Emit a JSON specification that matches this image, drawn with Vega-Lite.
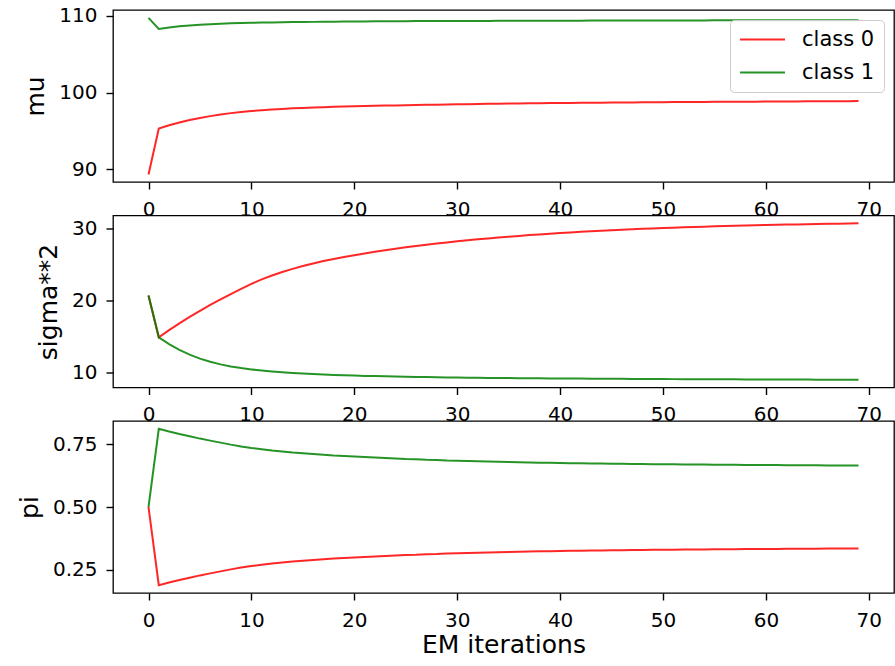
{
"$schema": "https://vega.github.io/schema/vega-lite/v6.json",
"autosize": {"type": "none"},
"padding": {"left": 113, "top": 10, "right": 782, "bottom": 656},
"background": "white",
"datasets": {"d": [
{"i":0,"c":"class 0","mu":89.3,"s":20.7,"p":0.5},{"i":0,"c":"class 1","mu":109.75,"s":20.7,"p":0.5},
{"i":1,"c":"class 0","mu":95.3,"s":14.85,"p":0.189},{"i":1,"c":"class 1","mu":108.3,"s":14.85,"p":0.811},
{"i":2,"c":"class 0","mu":95.72,"s":15.85,"p":0.2},{"i":2,"c":"class 1","mu":108.5,"s":13.9,"p":0.8},
{"i":3,"c":"class 0","mu":96.08,"s":16.8,"p":0.21},{"i":3,"c":"class 1","mu":108.65,"s":13.1,"p":0.79},
{"i":4,"c":"class 0","mu":96.4,"s":17.7,"p":0.219},{"i":4,"c":"class 1","mu":108.75,"s":12.43,"p":0.781},
{"i":5,"c":"class 0","mu":96.68,"s":18.55,"p":0.228},{"i":5,"c":"class 1","mu":108.85,"s":11.88,"p":0.772},
{"i":6,"c":"class 0","mu":96.92,"s":19.37,"p":0.236},{"i":6,"c":"class 1","mu":108.92,"s":11.43,"p":0.764},
{"i":7,"c":"class 0","mu":97.13,"s":20.15,"p":0.244},{"i":7,"c":"class 1","mu":108.98,"s":11.07,"p":0.756},
{"i":8,"c":"class 0","mu":97.31,"s":20.9,"p":0.252},{"i":8,"c":"class 1","mu":109.03,"s":10.78,"p":0.748},
{"i":9,"c":"class 0","mu":97.46,"s":21.62,"p":0.259},{"i":9,"c":"class 1","mu":109.07,"s":10.55,"p":0.741},
{"i":10,"c":"class 0","mu":97.59,"s":22.32,"p":0.265},{"i":10,"c":"class 1","mu":109.1,"s":10.37,"p":0.735},
{"i":11,"c":"class 0","mu":97.69,"s":22.94,"p":0.27},{"i":11,"c":"class 1","mu":109.13,"s":10.22,"p":0.73},
{"i":12,"c":"class 0","mu":97.78,"s":23.49,"p":0.275},{"i":12,"c":"class 1","mu":109.15,"s":10.09,"p":0.725},
{"i":13,"c":"class 0","mu":97.86,"s":23.97,"p":0.279},{"i":13,"c":"class 1","mu":109.17,"s":9.98,"p":0.721},
{"i":14,"c":"class 0","mu":97.93,"s":24.41,"p":0.283},{"i":14,"c":"class 1","mu":109.19,"s":9.88,"p":0.717},
{"i":15,"c":"class 0","mu":97.99,"s":24.81,"p":0.286},{"i":15,"c":"class 1","mu":109.21,"s":9.79,"p":0.714},
{"i":16,"c":"class 0","mu":98.04,"s":25.17,"p":0.289},{"i":16,"c":"class 1","mu":109.22,"s":9.72,"p":0.711},
{"i":17,"c":"class 0","mu":98.09,"s":25.5,"p":0.292},{"i":17,"c":"class 1","mu":109.24,"s":9.65,"p":0.708},
{"i":18,"c":"class 0","mu":98.13,"s":25.8,"p":0.295},{"i":18,"c":"class 1","mu":109.25,"s":9.6,"p":0.705},
{"i":19,"c":"class 0","mu":98.17,"s":26.08,"p":0.297},{"i":19,"c":"class 1","mu":109.26,"s":9.55,"p":0.703},
{"i":20,"c":"class 0","mu":98.2,"s":26.33,"p":0.299},{"i":20,"c":"class 1","mu":109.27,"s":9.5,"p":0.701},
{"i":21,"c":"class 0","mu":98.23,"s":26.57,"p":0.301},{"i":21,"c":"class 1","mu":109.28,"s":9.46,"p":0.699},
{"i":22,"c":"class 0","mu":98.26,"s":26.8,"p":0.303},{"i":22,"c":"class 1","mu":109.29,"s":9.43,"p":0.697},
{"i":23,"c":"class 0","mu":98.29,"s":27.02,"p":0.305},{"i":23,"c":"class 1","mu":109.3,"s":9.4,"p":0.695},
{"i":24,"c":"class 0","mu":98.32,"s":27.23,"p":0.307},{"i":24,"c":"class 1","mu":109.3,"s":9.37,"p":0.693},
{"i":25,"c":"class 0","mu":98.34,"s":27.43,"p":0.309},{"i":25,"c":"class 1","mu":109.31,"s":9.34,"p":0.691},
{"i":26,"c":"class 0","mu":98.37,"s":27.61,"p":0.31},{"i":26,"c":"class 1","mu":109.32,"s":9.32,"p":0.69},
{"i":27,"c":"class 0","mu":98.39,"s":27.78,"p":0.312},{"i":27,"c":"class 1","mu":109.32,"s":9.3,"p":0.688},
{"i":28,"c":"class 0","mu":98.41,"s":27.95,"p":0.313},{"i":28,"c":"class 1","mu":109.33,"s":9.27,"p":0.687},
{"i":29,"c":"class 0","mu":98.44,"s":28.11,"p":0.315},{"i":29,"c":"class 1","mu":109.33,"s":9.25,"p":0.685},
{"i":30,"c":"class 0","mu":98.46,"s":28.26,"p":0.316},{"i":30,"c":"class 1","mu":109.34,"s":9.23,"p":0.684},
{"i":31,"c":"class 0","mu":98.48,"s":28.4,"p":0.317},{"i":31,"c":"class 1","mu":109.34,"s":9.21,"p":0.683},
{"i":32,"c":"class 0","mu":98.5,"s":28.54,"p":0.318},{"i":32,"c":"class 1","mu":109.35,"s":9.2,"p":0.682},
{"i":33,"c":"class 0","mu":98.52,"s":28.67,"p":0.319},{"i":33,"c":"class 1","mu":109.35,"s":9.18,"p":0.681},
{"i":34,"c":"class 0","mu":98.54,"s":28.79,"p":0.32},{"i":34,"c":"class 1","mu":109.36,"s":9.17,"p":0.68},
{"i":35,"c":"class 0","mu":98.56,"s":28.91,"p":0.321},{"i":35,"c":"class 1","mu":109.36,"s":9.16,"p":0.679},
{"i":36,"c":"class 0","mu":98.57,"s":29.02,"p":0.322},{"i":36,"c":"class 1","mu":109.36,"s":9.14,"p":0.678},
{"i":37,"c":"class 0","mu":98.59,"s":29.13,"p":0.323},{"i":37,"c":"class 1","mu":109.37,"s":9.13,"p":0.677},
{"i":38,"c":"class 0","mu":98.6,"s":29.23,"p":0.324},{"i":38,"c":"class 1","mu":109.37,"s":9.12,"p":0.676},
{"i":39,"c":"class 0","mu":98.62,"s":29.33,"p":0.324},{"i":39,"c":"class 1","mu":109.37,"s":9.11,"p":0.676},
{"i":40,"c":"class 0","mu":98.63,"s":29.42,"p":0.325},{"i":40,"c":"class 1","mu":109.38,"s":9.1,"p":0.675},
{"i":41,"c":"class 0","mu":98.64,"s":29.51,"p":0.326},{"i":41,"c":"class 1","mu":109.38,"s":9.09,"p":0.674},
{"i":42,"c":"class 0","mu":98.65,"s":29.6,"p":0.326},{"i":42,"c":"class 1","mu":109.38,"s":9.08,"p":0.674},
{"i":43,"c":"class 0","mu":98.67,"s":29.68,"p":0.327},{"i":43,"c":"class 1","mu":109.39,"s":9.07,"p":0.673},
{"i":44,"c":"class 0","mu":98.68,"s":29.75,"p":0.327},{"i":44,"c":"class 1","mu":109.39,"s":9.06,"p":0.673},
{"i":45,"c":"class 0","mu":98.69,"s":29.82,"p":0.328},{"i":45,"c":"class 1","mu":109.39,"s":9.06,"p":0.672},
{"i":46,"c":"class 0","mu":98.7,"s":29.89,"p":0.328},{"i":46,"c":"class 1","mu":109.39,"s":9.05,"p":0.672},
{"i":47,"c":"class 0","mu":98.71,"s":29.95,"p":0.329},{"i":47,"c":"class 1","mu":109.4,"s":9.04,"p":0.671},
{"i":48,"c":"class 0","mu":98.72,"s":30.01,"p":0.329},{"i":48,"c":"class 1","mu":109.4,"s":9.03,"p":0.671},
{"i":49,"c":"class 0","mu":98.73,"s":30.07,"p":0.33},{"i":49,"c":"class 1","mu":109.4,"s":9.03,"p":0.67},
{"i":50,"c":"class 0","mu":98.74,"s":30.12,"p":0.33},{"i":50,"c":"class 1","mu":109.4,"s":9.02,"p":0.67},
{"i":51,"c":"class 0","mu":98.75,"s":30.17,"p":0.33},{"i":51,"c":"class 1","mu":109.41,"s":9.01,"p":0.67},
{"i":52,"c":"class 0","mu":98.76,"s":30.22,"p":0.331},{"i":52,"c":"class 1","mu":109.41,"s":9.01,"p":0.669},
{"i":53,"c":"class 0","mu":98.77,"s":30.27,"p":0.331},{"i":53,"c":"class 1","mu":109.41,"s":9.0,"p":0.669},
{"i":54,"c":"class 0","mu":98.77,"s":30.31,"p":0.331},{"i":54,"c":"class 1","mu":109.41,"s":9.0,"p":0.669},
{"i":55,"c":"class 0","mu":98.78,"s":30.36,"p":0.332},{"i":55,"c":"class 1","mu":109.42,"s":8.99,"p":0.668},
{"i":56,"c":"class 0","mu":98.79,"s":30.4,"p":0.332},{"i":56,"c":"class 1","mu":109.42,"s":8.98,"p":0.668},
{"i":57,"c":"class 0","mu":98.8,"s":30.44,"p":0.332},{"i":57,"c":"class 1","mu":109.42,"s":8.98,"p":0.668},
{"i":58,"c":"class 0","mu":98.8,"s":30.47,"p":0.333},{"i":58,"c":"class 1","mu":109.42,"s":8.97,"p":0.667},
{"i":59,"c":"class 0","mu":98.81,"s":30.51,"p":0.333},{"i":59,"c":"class 1","mu":109.42,"s":8.97,"p":0.667},
{"i":60,"c":"class 0","mu":98.82,"s":30.54,"p":0.333},{"i":60,"c":"class 1","mu":109.43,"s":8.96,"p":0.667},
{"i":61,"c":"class 0","mu":98.83,"s":30.57,"p":0.333},{"i":61,"c":"class 1","mu":109.43,"s":8.96,"p":0.667},
{"i":62,"c":"class 0","mu":98.83,"s":30.6,"p":0.334},{"i":62,"c":"class 1","mu":109.43,"s":8.95,"p":0.666},
{"i":63,"c":"class 0","mu":98.84,"s":30.63,"p":0.334},{"i":63,"c":"class 1","mu":109.43,"s":8.95,"p":0.666},
{"i":64,"c":"class 0","mu":98.85,"s":30.66,"p":0.334},{"i":64,"c":"class 1","mu":109.43,"s":8.95,"p":0.666},
{"i":65,"c":"class 0","mu":98.85,"s":30.68,"p":0.334},{"i":65,"c":"class 1","mu":109.44,"s":8.94,"p":0.666},
{"i":66,"c":"class 0","mu":98.86,"s":30.71,"p":0.335},{"i":66,"c":"class 1","mu":109.44,"s":8.94,"p":0.665},
{"i":67,"c":"class 0","mu":98.87,"s":30.73,"p":0.335},{"i":67,"c":"class 1","mu":109.44,"s":8.94,"p":0.665},
{"i":68,"c":"class 0","mu":98.87,"s":30.76,"p":0.335},{"i":68,"c":"class 1","mu":109.44,"s":8.93,"p":0.665},
{"i":69,"c":"class 0","mu":98.88,"s":30.78,"p":0.335},{"i":69,"c":"class 1","mu":109.44,"s":8.93,"p":0.665}
]},
"data": {"name": "d"},
"spacing": 33.5,
"bounds": "flush",
"resolve": {"scale": {"color": "independent"}, "legend": {"color": "independent"}},
"vconcat": [
{
"width": 781, "height": 172,
"mark": {"type": "line", "strokeWidth": 2, "opacity": 0.85},
"encoding": {
"x": {"field": "i", "type": "quantitative", "scale": {"domain": [-3.45, 72.45], "nice": false, "zero": false}, "axis": {"values": [0,10,20,30,40,50,60,70], "title": null}},
"y": {"field": "mu", "type": "quantitative", "scale": {"domain": [88.32, 110.77], "nice": false, "zero": false}, "axis": {"values": [90,100,110], "title": "mu"}},
"color": {"field": "c", "type": "nominal", "scale": {"domain": ["class 0","class 1"], "range": ["#ff0000","#008000"]},
"legend": {"title": null, "orient": "top-right", "offset": 10, "symbolType": "stroke", "symbolSize": 2025, "symbolStrokeWidth": 2, "symbolOpacity": 0.85, "labelFontSize": 21, "labelFont": "DejaVu Sans", "labelColor": "#000", "labelOffset": 16, "padding": 9, "rowPadding": 11, "clipHeight": 21, "fillColor": "rgba(255,255,255,0.8)", "strokeColor": "#cccccc", "cornerRadius": 4}}
}
},
{
"width": 781, "height": 172,
"mark": {"type": "line", "strokeWidth": 2, "opacity": 0.85},
"encoding": {
"x": {"field": "i", "type": "quantitative", "scale": {"domain": [-3.45, 72.45], "nice": false, "zero": false}, "axis": {"values": [0,10,20,30,40,50,60,70], "title": null}},
"y": {"field": "s", "type": "quantitative", "scale": {"domain": [7.84, 31.87], "nice": false, "zero": false}, "axis": {"values": [10,20,30], "title": "sigma**2"}},
"color": {"field": "c", "type": "nominal", "scale": {"domain": ["class 0","class 1"], "range": ["#ff0000","#008000"]}, "legend": null}
}
},
{
"width": 781, "height": 172,
"mark": {"type": "line", "strokeWidth": 2, "opacity": 0.85},
"encoding": {
"x": {"field": "i", "type": "quantitative", "scale": {"domain": [-3.45, 72.45], "nice": false, "zero": false}, "axis": {"values": [0,10,20,30,40,50,60,70], "title": "EM iterations", "titlePadding": 2}},
"y": {"field": "p", "type": "quantitative", "scale": {"domain": [0.158, 0.842], "nice": false, "zero": false}, "axis": {"values": [0.25,0.5,0.75], "format": ".2f", "title": "pi"}},
"color": {"field": "c", "type": "nominal", "scale": {"domain": ["class 0","class 1"], "range": ["#ff0000","#008000"]}, "legend": null}
}
}
],
"config": {
"font": "DejaVu Sans",
"view": {"stroke": "#000", "strokeWidth": 1.3},
"axis": {"domain": false, "grid": false, "tickSize": 7, "tickWidth": 1.4, "tickColor": "#000", "labelFontSize": 20, "labelColor": "#000", "labelFont": "DejaVu Sans", "titleFont": "DejaVu Sans", "titleFontSize": 25, "titleFontWeight": "normal", "titleColor": "#000", "labelFlush": false, "labelOverlap": false},
"axisX": {"labelPadding": 10},
"axisY": {"labelPadding": 9, "titlePadding": 10}
}
}
